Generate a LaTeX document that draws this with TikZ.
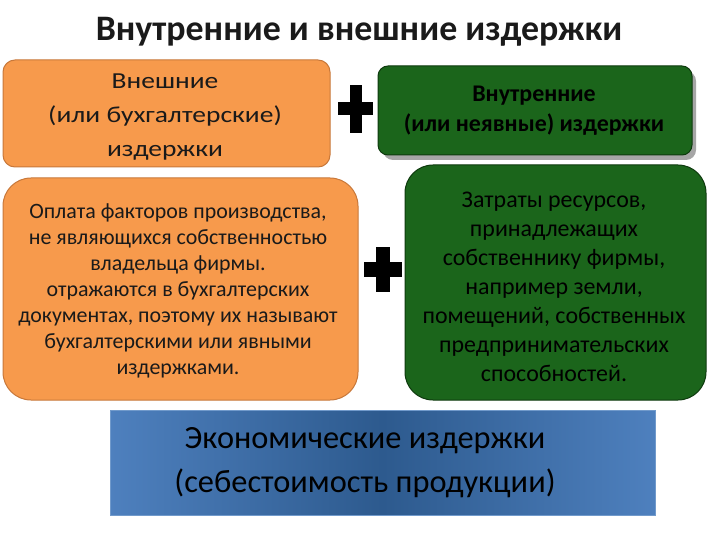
\documentclass[tikz,border=0pt]{standalone}
\usepackage{fontspec}
\setmainfont{Carlito}
\newfontfamily\widefont[FakeStretch=1.2]{Carlito}
\definecolor{orfill}{HTML}{F79A4C}
\definecolor{ordraw}{HTML}{C8783A}
\definecolor{grfill}{HTML}{1B651B}
\definecolor{grdraw}{HTML}{0E3A0E}
\definecolor{bledge}{HTML}{4E80BE}
\definecolor{blmid}{HTML}{2D5A8E}
\definecolor{txt}{HTML}{1A1A1A}
\begin{document}
\begin{tikzpicture}[x=1bp,y=-1bp,
  orbox/.style={draw=ordraw,line width=1bp,fill=orfill,text=txt,align=center},
  grbox/.style={draw=grdraw,line width=1bp,fill=grfill,text=black,align=center},
  plusbar/.style={fill=black,draw=none}]
\useasboundingbox (0,0) rectangle (720,540);
\fill[white] (0,0) rectangle (720,540);
\node[font=\fontsize{36}{40}\selectfont\bfseries,text=txt] (title) at (359,32) {Внутренние и внешние издержки};
% top left
\draw[orbox,rounded corners=12bp] (3,60) rectangle (330,167);
\node[text=txt,align=center,font=\widefont\fontsize{23}{34}\selectfont] (ext) at (165,117) {Внешние\\(или бухгалтерские)\\издержки};
% top right
\fill[gray!70,rounded corners=10bp] (383,71) rectangle (696,160);
\draw[grbox,rounded corners=10bp] (378,66) rectangle (692,155);
\node[align=center,font=\fontsize{24}{30}\selectfont\bfseries] (int) at (534,111) {Внутренние\\(или неявные) издержки};
% mid left
\draw[orbox,rounded corners=28bp] (3,178) rectangle (358,400);
\node[text=txt,align=center,font=\fontsize{22}{26}\selectfont] (extd) at (178,291) {Оплата факторов производства,\\не являющихся собственностью\\владельца фирмы.\\отражаются в бухгалтерских\\документах, поэтому их называют\\бухгалтерскими или явными\\издержками.};
% mid right
\draw[grbox,rounded corners=28bp] (405,165) rectangle (706,400);
\node[align=center,font=\fontsize{24}{29}\selectfont] (intd) at (554,287) {Затраты ресурсов,\\принадлежащих\\собственнику фирмы,\\например земли,\\помещений, собственных\\предпринимательских\\способностей.};
% plus signs
\fill[plusbar] (349.5,85) rectangle (361.5,133);
\fill[plusbar] (338,102.5) rectangle (373,115.5);
\fill[plusbar] (376,247) rectangle (390,292);
\fill[plusbar] (364,262.5) rectangle (402,276.5);
% bottom
\shade[left color=bledge,right color=bledge,middle color=blmid] (110,410) rectangle (655,515);
\draw[bledge!80!white,line width=1bp] (110,410) rectangle (655,515);
\node[align=center,text=black,font=\fontsize{32.5}{44}\selectfont] (econ) at (365,463) {Экономические издержки\\(себестоимость продукции)};
\end{tikzpicture}
\end{document}
